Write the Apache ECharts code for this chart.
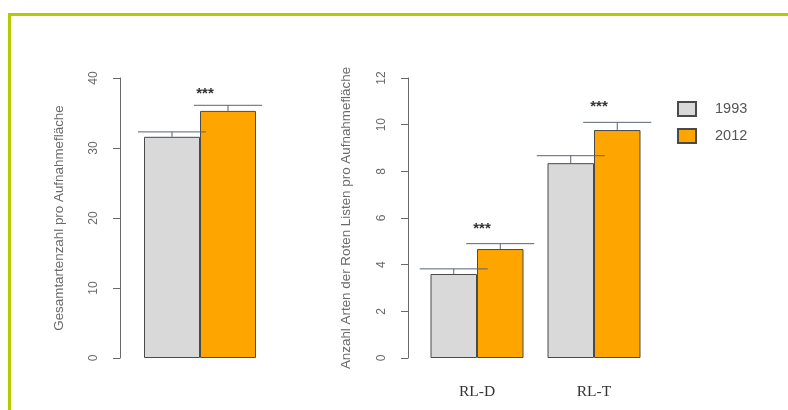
<!DOCTYPE html>
<html>
<head>
<meta charset="utf-8">
<script src="https://cdn.jsdelivr.net/npm/echarts@6/dist/echarts.min.js"></script>
<style>
html,body{margin:0;padding:0;background:#fff;}
#frame{position:absolute;left:8px;top:13px;width:780px;height:397px;border-left:3px solid #b4cb00;border-top:3px solid #b4cb00;box-sizing:border-box;}
#chart{position:absolute;left:0;top:0;width:788px;height:410px;}
</style>
</head>
<body>
<div id="frame"></div>
<div id="chart"></div>
<script>
// ---- data ----
const seriesNames = ['1993', '2012'];
const totalCategories = ['Gesamt'];
const total1993 = [31.6];
const total2012 = [35.3];
const totalErr1993 = [0.7];
const totalErr2012 = [0.8];
const totalSig = ['***'];

const rlCategories = ['RL-D', 'RL-T'];
const rl1993 = [3.6, 8.35];
const rl2012 = [4.67, 9.77];
const rlErr1993 = [0.22, 0.32];
const rlErr2012 = [0.23, 0.33];
const rlSig = ['***', '***'];

const leftTicks = { min: 0, max: 40, interval: 10 };
const rightTicks = { min: 0, max: 12, interval: 2 };
const leftAxisName = 'Gesamtartenzahl pro Aufnahmefläche';
const rightAxisName = 'Anzahl Arten der Roten Listen pro Aufnahmefläche';

// ---- styling ----
const GRAY = '#d9d9d9';
const ORANGE = '#ffa500';
const leftBarW = 56;
const rightBarW = 46.5;
const whiskerW = 68;

const chart = echarts.init(document.getElementById('chart'), null, { renderer: 'canvas' });

function errData(means, errs, side) {
  return means.map((m, i) => [i, m, errs[i], side]);
}
function errRender(barW) {
  return function (params, api) {
    const cat = api.value(0), mean = api.value(1), err = api.value(2), side = api.value(3);
    const base = api.coord([cat, mean]);
    const top = api.coord([cat, mean + err]);
    const x = base[0] + side * barW / 2;
    const st = { stroke: '#59636e', lineWidth: 1 };
    return {
      type: 'group',
      children: [
        { type: 'line', shape: { x1: x, y1: base[1], x2: x, y2: top[1] }, style: st },
        { type: 'line', shape: { x1: x - whiskerW / 2, y1: top[1], x2: x + whiskerW / 2, y2: top[1] }, style: st }
      ]
    };
  };
}
function sigData(a, ea, b, eb, labels) {
  return labels.map((l, i) => [i, Math.max(a[i] + ea[i], b[i] + eb[i]), l]);
}
function sigRender(dy) {
  return function (params, api) {
    const p = api.coord([api.value(0), api.value(1)]);
    return {
      type: 'text',
      style: {
        x: p[0] + 5, y: p[1] - dy,
        text: api.value(2),
        align: 'center', verticalAlign: 'middle',
        font: 'bold 15px "Liberation Sans", sans-serif',
        fill: '#333'
      }
    };
  };
}

const yAxisCommon = {
  type: 'value',
  splitLine: { show: false },
  axisLine: { show: true, lineStyle: { color: '#6a6a6a', width: 1 } },
  axisTick: { show: true, length: 7, lineStyle: { color: '#6a6a6a' } },
  axisLabel: { rotate: 90, color: '#6a6a6a', fontSize: 12, fontFamily: 'Liberation Sans', margin: 20 },
  nameLocation: 'middle',
  nameRotate: 90,
  nameTextStyle: { color: '#6a6a6a', fontSize: 13.4, fontFamily: 'Liberation Sans' }
};

const barStyle = (c) => ({ color: c, borderColor: '#4a4a4a', borderWidth: 1 });

chart.setOption({
  animation: false,
  backgroundColor: 'transparent',
  legend: {
    orient: 'vertical',
    left: 677, top: 101,
    padding: 0,
    itemWidth: 18, itemHeight: 14, itemGap: 11,
    icon: 'rect',
    data: seriesNames,
    textStyle: { color: '#555', fontSize: 14.5, fontFamily: 'Liberation Sans', padding: [0, 0, 0, 14] }
  },
  grid: [
    { left: 130, width: 140, top: 78, height: 280 },
    { left: 418.5, width: 234, top: 78, height: 280 }
  ],
  xAxis: [
    { type: 'category', gridIndex: 0, data: totalCategories, show: false },
    {
      type: 'category', gridIndex: 1, data: rlCategories,
      axisLine: { show: false }, axisTick: { show: false },
      axisLabel: { color: '#333', fontSize: 15.5, fontFamily: 'Liberation Serif', margin: 26 }
    }
  ],
  yAxis: [
    Object.assign({}, yAxisCommon, {
      gridIndex: 0, min: leftTicks.min, max: leftTicks.max, interval: leftTicks.interval,
      offset: 10, name: leftAxisName, nameGap: 54
    }),
    Object.assign({}, yAxisCommon, {
      gridIndex: 1, min: rightTicks.min, max: rightTicks.max, interval: rightTicks.interval,
      offset: 10.5, name: rightAxisName, nameGap: 55
    })
  ],
  series: [
    { name: seriesNames[0], type: 'bar', xAxisIndex: 0, yAxisIndex: 0, data: total1993, barWidth: leftBarW, barGap: '0%', itemStyle: barStyle(GRAY) },
    { name: seriesNames[1], type: 'bar', xAxisIndex: 0, yAxisIndex: 0, data: total2012, barWidth: leftBarW, barGap: '0%', itemStyle: barStyle(ORANGE) },
    { name: seriesNames[0], type: 'bar', xAxisIndex: 1, yAxisIndex: 1, data: rl1993, barWidth: rightBarW, barGap: '0%', itemStyle: barStyle(GRAY) },
    { name: seriesNames[1], type: 'bar', xAxisIndex: 1, yAxisIndex: 1, data: rl2012, barWidth: rightBarW, barGap: '0%', itemStyle: barStyle(ORANGE) },
    { type: 'custom', xAxisIndex: 0, yAxisIndex: 0, data: errData(total1993, totalErr1993, -1), renderItem: errRender(leftBarW), z: 5 },
    { type: 'custom', xAxisIndex: 0, yAxisIndex: 0, data: errData(total2012, totalErr2012, 1), renderItem: errRender(leftBarW), z: 5 },
    { type: 'custom', xAxisIndex: 1, yAxisIndex: 1, data: errData(rl1993, rlErr1993, -1), renderItem: errRender(rightBarW), z: 5 },
    { type: 'custom', xAxisIndex: 1, yAxisIndex: 1, data: errData(rl2012, rlErr2012, 1), renderItem: errRender(rightBarW), z: 5 },
    { type: 'custom', xAxisIndex: 0, yAxisIndex: 0, data: sigData(total1993, totalErr1993, total2012, totalErr2012, totalSig), renderItem: sigRender(11), z: 6 },
    { type: 'custom', xAxisIndex: 1, yAxisIndex: 1, data: sigData(rl1993, rlErr1993, rl2012, rlErr2012, rlSig), renderItem: sigRender(15), z: 6 }
  ]
});
</script>
</body>
</html>
